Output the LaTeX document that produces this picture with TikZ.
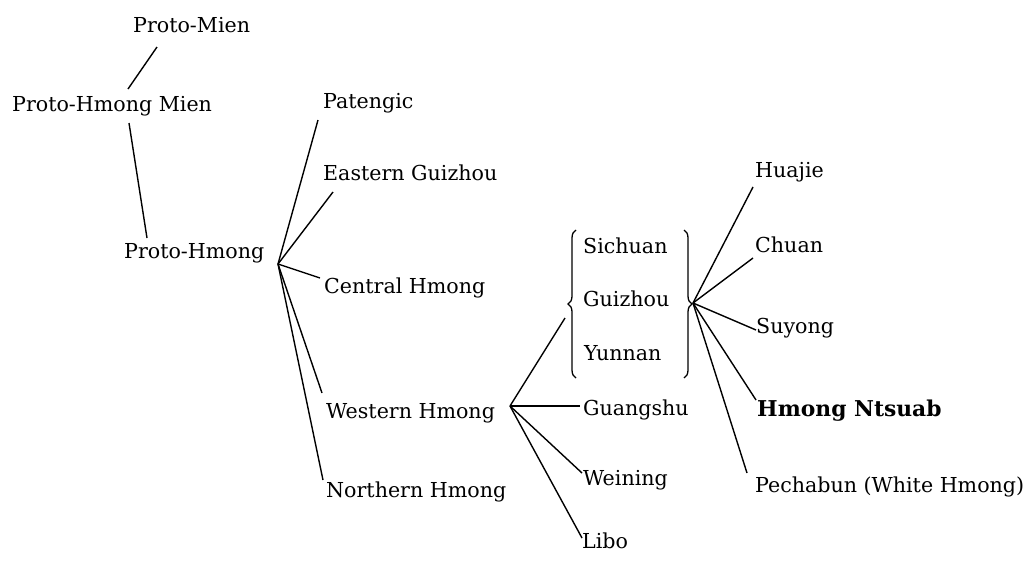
\documentclass[tikz,border=0pt]{standalone}
\usepackage{fontspec}
\setmainfont{DejaVu Serif}
\usetikzlibrary{decorations.pathreplacing}
\begin{document}
\begin{tikzpicture}[x=1pt,y=-1pt,
  lbl/.style={anchor=base west,inner sep=0pt,font=\fontsize{20.6}{24}\selectfont},
  bld/.style={lbl,font=\fontsize{21.8}{25}\selectfont\bfseries},
  ln/.style={line width=1.4pt},
  br/.style={line width=1.3pt,decorate,decoration={brace,amplitude=8pt,aspect=0.5}}]
\useasboundingbox (0,0) rectangle (1035,568);
% nodes
\node[lbl] (pm) at (133,32) {Proto-Mien};
\node[lbl] (phm) at (12,111) {Proto-Hmong Mien};
\node[lbl] (ph) at (124,258) {Proto-Hmong};
\node[lbl] (pat) at (323,108) {Patengic};
\node[lbl] (eg) at (323,180) {Eastern Guizhou};
\node[lbl] (ch) at (324,293) {Central Hmong};
\node[lbl] (wh) at (326,418) {Western Hmong};
\node[lbl] (nh) at (326,497) {Northern Hmong};
\node[lbl] (sic) at (583,253) {Sichuan};
\node[lbl] (gui) at (583,306) {Guizhou};
\node[lbl] (yun) at (584,360) {Yunnan};
\node[lbl] (gua) at (583,415) {Guangshu};
\node[lbl] (wei) at (583,485) {Weining};
\node[lbl] (lib) at (582,548) {Libo};
\node[lbl] (hua) at (755,177) {Huajie};
\node[lbl] (chu) at (755,252) {Chuan};
\node[lbl] (suy) at (756,333) {Suyong};
\node[bld] (hn) at (757,416) {Hmong Ntsuab};
\node[lbl] (pec) at (755,492) {Pechabun (White Hmong)};
% junctions and line ends
\coordinate (pmE) at (157,47);
\coordinate (phmT) at (128,89);
\coordinate (phmB) at (129,123);
\coordinate (phT) at (147,238);
\coordinate (phJ) at (278,264);
\coordinate (patE) at (318,120);
\coordinate (egE) at (333,192);
\coordinate (chE) at (320,278);
\coordinate (whE) at (322,393);
\coordinate (nhE) at (323,480);
\coordinate (whJ) at (510,406);
\coordinate (brL) at (565,318);
\coordinate (guaE) at (580,406);
\coordinate (weiE) at (582,473);
\coordinate (libE) at (582,538);
\coordinate (gJ) at (693,303);
\coordinate (huaE) at (753,187);
\coordinate (chuE) at (753,258);
\coordinate (suyE) at (756,330);
\coordinate (hnE) at (756,400);
\coordinate (pecE) at (747,473);
% connectors
\draw[ln] (phmT) -- (pmE);
\draw[ln] (phmB) -- (phT);
\draw[ln] (phJ) -- (patE);
\draw[ln] (phJ) -- (egE);
\draw[ln] (phJ) -- (chE);
\draw[ln] (phJ) -- (whE);
\draw[ln] (phJ) -- (nhE);
\draw[ln] (whJ) -- (brL);
\draw[ln] (whJ) -- (guaE);
\draw[ln] (whJ) -- (weiE);
\draw[ln] (whJ) -- (libE);
\draw[ln] (gJ) -- (huaE);
\draw[ln] (gJ) -- (chuE);
\draw[ln] (gJ) -- (suyE);
\draw[ln] (gJ) -- (hnE);
\draw[ln] (gJ) -- (pecE);
% braces
\draw[br] (576,378) -- (576,230);
\draw[br] (684,230) -- (684,378);
\end{tikzpicture}
\end{document}
